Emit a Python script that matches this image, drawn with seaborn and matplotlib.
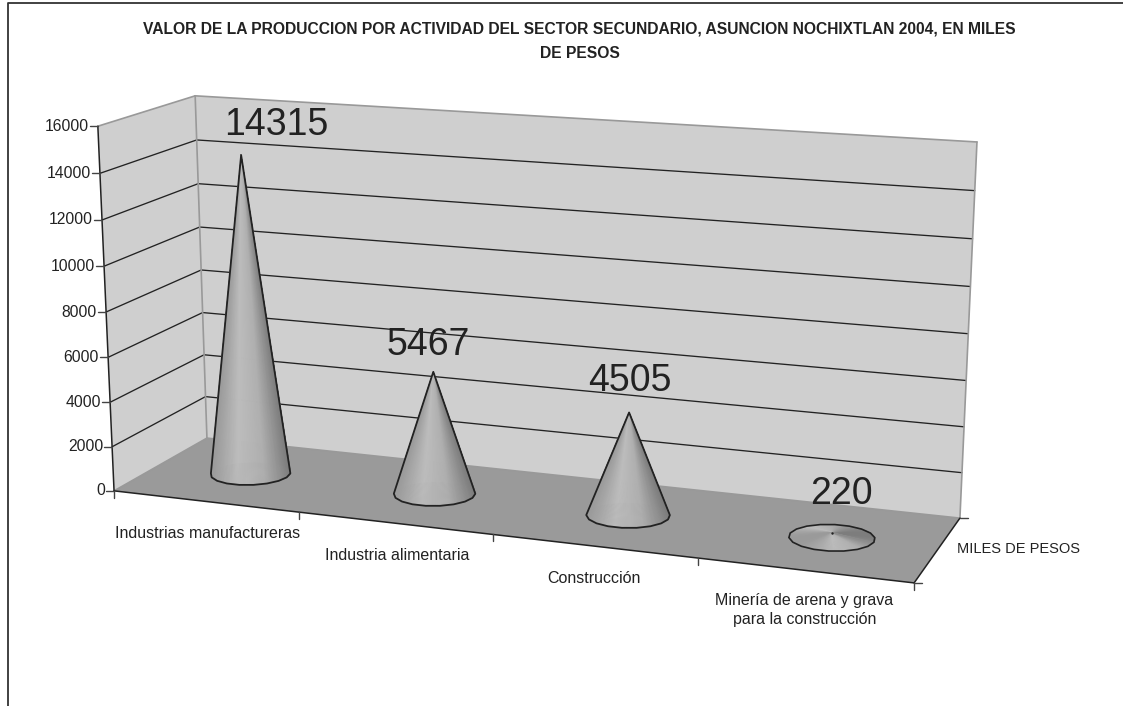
"""3D cone chart of secondary sector production, drawn on a flat seaborn axes."""

import matplotlib.pyplot as plt
import numpy as np
import pandas as pd
import seaborn as sns
from matplotlib.collections import PolyCollection
from matplotlib.patches import Polygon

TITLE = (
    "VALOR DE LA PRODUCCION POR ACTIVIDAD DEL SECTOR SECUNDARIO, ASUNCION NOCHIXTLAN 2004, EN MILES\n"
    "DE PESOS"
)
categories = [
    "Industrias manufactureras",
    "Industria alimentaria",
    "Construcción",
    "Minería de arena y grava\npara la construcción",
]
values = [14315, 5467, 4505, 220]
y_ticks = [0, 2000, 4000, 6000, 8000, 10000, 12000, 14000, 16000]
depth_label = "MILES DE PESOS"
Y_MAX = 16000

# Pixel position of the box corners, (x, value share, depth) -> picture
BOX_CORNERS = [
    ((0, 0, 0), (114, 491)),
    ((1, 0, 0), (914, 583)),
    ((0, 0, 1), (207, 438)),
    ((1, 0, 1), (960, 518)),
    ((0, 1, 0), (98, 126)),
    ((0, 1, 1), (195, 96)),
    ((1, 1, 1), (977, 142)),
]

CONE_RX = 0.05
CONE_RZ = 0.2
CONE_Z = 0.5

# Data label nudges in pixels, the chart placed these by hand
LABEL_SHIFT = [(35, -30), (-5, -27), (1, -31), (9, -39)]
CAT_LABEL_SHIFT = [(2, 32), (3, 32), (0, 32), (0, 40)]

WALL = "#cfcfcf"
FLOOR = "#9a9a9a"
EDGE = "#999999"
INK = "#222222"


def fit_projection(corners):
    """Fit the 3x4 perspective matrix from the box corners."""
    rows, rhs = [], []
    for (x, y, z), (u, v) in corners:
        rows.append([x, y, z, 1, 0, 0, 0, 0, -u * x, -u * y, -u * z])
        rows.append([0, 0, 0, 0, x, y, z, 1, -v * x, -v * y, -v * z])
        rhs += [u, v]
    coef = np.linalg.lstsq(np.array(rows, float), np.array(rhs, float), rcond=None)[0]
    return np.append(coef, 1).reshape(3, 4)


PROJ = fit_projection(BOX_CORNERS)


def project(x, y, z):
    """Box coordinates to picture pixels."""
    pts = np.column_stack(np.broadcast_arrays(x, y, z, 1.0))
    out = pts @ PROJ.T
    return out[:, :2] / out[:, 2:]


def cone_polys(center, share, n):
    """Base ring and apex of one cone, in pixels."""
    theta = np.linspace(0, 2 * np.pi, n, endpoint=False)
    ring = project(center + CONE_RX * np.cos(theta), 0.0, CONE_Z + CONE_RZ * np.sin(theta))
    apex = project(center, share, CONE_Z)[0]
    return ring, apex


def convex_hull(points):
    pts = sorted(map(tuple, points))

    def half(seq):
        chain = []
        for p in seq:
            while len(chain) > 1:
                a, b = np.subtract(chain[-1], chain[-2]), np.subtract(p, chain[-1])
                if a[0] * b[1] - a[1] * b[0] > 0:
                    break
                chain.pop()
            chain.append(p)
        return chain[:-1]

    return np.array(half(pts) + half(pts[::-1]))


sns.set_theme(style="white")
plt.rcParams["font.family"] = ["Liberation Sans", "DejaVu Sans"]

fig, ax = plt.subplots(figsize=(11.23, 7.06), dpi=100)
ax.set_position([0, 0, 1, 1])
ax.set_xlim(0, 1123)
ax.set_ylim(706, 0)
ax.axis("off")

# Outer frame, only the top and left edges survive in the picture
ax.plot([8, 8, 1123], [706, 3, 3], color="#333333", lw=1.3, zorder=1)

# Walls and floor
left_wall = project([0, 0, 0, 0], [0, 1, 1, 0], [0, 0, 1, 1])
back_wall = project([0, 1, 1, 0], [0, 0, 1, 1], [1, 1, 1, 1])
floor = project([0, 1, 1, 0], [0, 0, 0, 0], [0, 0, 1, 1])
ax.add_patch(Polygon(left_wall, fc=WALL, ec="none", zorder=2))
ax.add_patch(Polygon(back_wall, fc=WALL, ec="none", zorder=2))
ax.add_patch(Polygon(floor, fc=FLOOR, ec="none", zorder=2))

# Gridlines run along the left wall and then the back wall
grid = []
for tick in y_ticks[1:-1]:
    share = tick / Y_MAX
    pts = project([0, 0, 1], share, [0, 1, 1])
    grid.append(pd.DataFrame({"px": pts[:, 0], "py": pts[:, 1], "tick": tick, "order": range(3)}))
grid = pd.concat(grid)
sns.lineplot(
    data=grid, x="px", y="py", units="tick", estimator=None, sort=False,
    color=INK, lw=0.95, ax=ax, zorder=3,
)

# Wall edges
for xs, ys, zs in [
    ([0, 0], [1, 1], [0, 1]),
    ([0, 1], [1, 1], [1, 1]),
    ([0, 0], [1, 0], [1, 1]),
    ([1, 1], [1, 0], [1, 1]),
    ([0, 0], [0, 0], [0, 1]),
    ([0, 1], [0, 0], [1, 1]),
]:
    pts = project(xs, ys, zs)
    ax.plot(pts[:, 0], pts[:, 1], color=EDGE, lw=1.2, zorder=3)

# Axes lines
for xs, ys, zs in [([0, 0], [0, 1], [0, 0]), ([0, 1], [0, 0], [0, 0]), ([1, 1], [0, 0], [0, 1])]:
    pts = project(xs, ys, zs)
    ax.plot(pts[:, 0], pts[:, 1], color=INK, lw=1.1, zorder=4)

# Value ticks
for tick in y_ticks:
    x0, y0 = project(0, tick / Y_MAX, 0)[0]
    ax.plot([x0 - 8, x0], [y0, y0], color="#444444", lw=1, zorder=4)
    ax.text(x0 - 9, y0, str(tick), ha="right", va="center", fontsize=11.3, color=INK)

# Category ticks and labels
n_cat = len(categories)
for i in range(n_cat + 1):
    x0, y0 = project(i / n_cat, 0, 0)[0]
    ax.plot([x0, x0], [y0, y0 + 7], color="#444444", lw=1, zorder=4)
for i, label in enumerate(categories):
    x0, y0 = project((i + 0.5) / n_cat, 0, 0)[0]
    dx, dy = CAT_LABEL_SHIFT[i]
    ax.text(x0 + dx, y0 + dy, label, ha="center", va="center", fontsize=11.5, color=INK, linespacing=1.32)

# Depth axis ticks and label
for z in [0, 1]:
    x0, y0 = project(1, 0, z)[0]
    ax.plot([x0, x0 + 8], [y0, y0], color="#444444", lw=1, zorder=4)
x0, y0 = project(1, 0, 0.5)[0]
ax.text(x0 + 81, y0, depth_label, ha="center", va="center", fontsize=10.5, color=INK)

# Cones, light band left of the middle and darker towards the right
n_shade = 120
shades = sns.blend_palette(["#9a9a9a", "#bdbdbd", "#b0b0b0", "#7c7c7c"], n_shade)
for i, value in enumerate(values):
    center = (i + 0.5) / n_cat
    share = value / Y_MAX
    ring, apex = cone_polys(center, share, 2 * n_shade)
    rough_ring, _ = cone_polys(center, share, 18)
    if share > 0.03:
        facets = [[apex, ring[k], ring[(k + 1) % len(ring)]] for k in range(len(ring))]
        order = np.argsort([-(p[1][1] + p[2][1]) for p in facets])[::-1]
        colors = []
        for k in range(len(ring)):
            frac = (ring[k][0] - ring[:, 0].min()) / np.ptp(ring[:, 0])
            colors.append(shades[min(int(frac * n_shade), n_shade - 1)])
        coll = PolyCollection(
            [facets[k] for k in order], facecolors=[colors[k] for k in order],
            edgecolors=[colors[k] for k in order], linewidths=0.3, alpha=0.95, zorder=5,
        )
        ax.add_collection(coll)
        hull = convex_hull(np.vstack([rough_ring, apex]))
        ax.add_patch(Polygon(hull, fc="none", ec=INK, lw=1.3, joinstyle="round", zorder=6))
    else:
        # A squat cone is seen from above, so all of it is visible as a disc
        disc = [[apex, ring[k], ring[(k + 1) % len(ring)]] for k in range(len(ring))]
        frac = (np.cos(np.linspace(0, 2 * np.pi, len(ring), endpoint=False) - 0.6) + 1) / 2
        colors = [shades[int(f * (n_shade - 1))] for f in frac]
        ax.add_collection(PolyCollection(disc, facecolors=colors, edgecolors=colors, linewidths=0.3, zorder=5))
        ax.add_patch(Polygon(rough_ring, fc="none", ec=INK, lw=1.2, zorder=6))
        ax.plot(*apex, ".", color=INK, ms=1.5, zorder=6)
    dx, dy = LABEL_SHIFT[i]
    ax.text(apex[0] + dx, apex[1] + dy, str(value), ha="center", va="center", fontsize=27, color=INK, zorder=7)

ax.text(579.5, 41.5, TITLE, ha="center", va="center", fontsize=11.25, fontweight="bold", color=INK, linespacing=1.75)

fig.savefig("out.png", dpi=100)
